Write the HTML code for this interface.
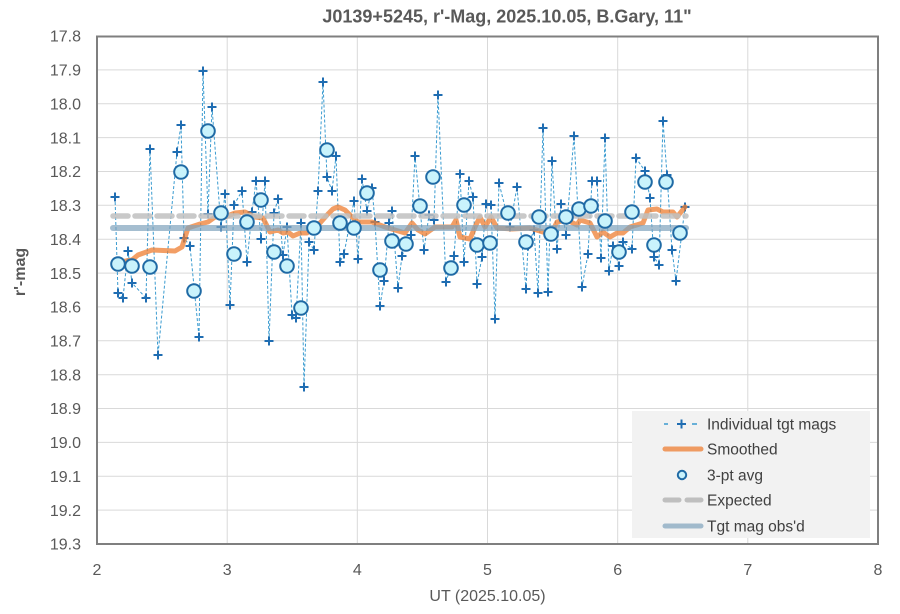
<!DOCTYPE html>
<html>
<head>
<meta charset="utf-8">
<style>
  html,body{margin:0;padding:0;background:#fff;}
  svg{display:block;}
  text{font-family:"Liberation Sans",Arial,sans-serif;}
</style>
</head>
<body>
<svg width="900" height="614" viewBox="0 0 900 614" xmlns="http://www.w3.org/2000/svg">
  <defs>
    <marker id="cr" markerWidth="10" markerHeight="10" refX="5" refY="5" markerUnits="userSpaceOnUse" overflow="visible">
      <path d="M0.5 5h9M5 0.5v9" stroke="#1F6DB2" stroke-width="2" fill="none" stroke-dasharray="none"/>
    </marker>
  </defs>
  <rect x="0" y="0" width="900" height="614" fill="#fff"/>

  <text x="507" y="22.5" font-size="18" font-weight="bold" fill="#595959" text-anchor="middle">J0139+5245, r'-Mag, 2025.10.05, B.Gary, 11"</text>

  <g stroke="#D9D9D9" stroke-width="1">
    <line x1="97" x2="878" y1="69.9" y2="69.9"/>
    <line x1="97" x2="878" y1="103.7" y2="103.7"/>
    <line x1="97" x2="878" y1="137.6" y2="137.6"/>
    <line x1="97" x2="878" y1="171.5" y2="171.5"/>
    <line x1="97" x2="878" y1="205.3" y2="205.3"/>
    <line x1="97" x2="878" y1="239.2" y2="239.2"/>
    <line x1="97" x2="878" y1="273.1" y2="273.1"/>
    <line x1="97" x2="878" y1="306.9" y2="306.9"/>
    <line x1="97" x2="878" y1="340.8" y2="340.8"/>
    <line x1="97" x2="878" y1="374.7" y2="374.7"/>
    <line x1="97" x2="878" y1="408.5" y2="408.5"/>
    <line x1="97" x2="878" y1="442.4" y2="442.4"/>
    <line x1="97" x2="878" y1="476.3" y2="476.3"/>
    <line x1="97" x2="878" y1="510.1" y2="510.1"/>
    <line y1="36" y2="544" x1="227.2" x2="227.2"/>
    <line y1="36" y2="544" x1="357.3" x2="357.3"/>
    <line y1="36" y2="544" x1="487.5" x2="487.5"/>
    <line y1="36" y2="544" x1="617.7" x2="617.7"/>
    <line y1="36" y2="544" x1="747.8" x2="747.8"/>
  </g>

  <g font-size="16" fill="#595959" text-anchor="end">
    <text x="81" y="41.7">17.8</text>
    <text x="81" y="75.6">17.9</text>
    <text x="81" y="109.4">18.0</text>
    <text x="81" y="143.3">18.1</text>
    <text x="81" y="177.2">18.2</text>
    <text x="81" y="211">18.3</text>
    <text x="81" y="244.9">18.4</text>
    <text x="81" y="278.8">18.5</text>
    <text x="81" y="312.6">18.6</text>
    <text x="81" y="346.5">18.7</text>
    <text x="81" y="380.4">18.8</text>
    <text x="81" y="414.2">18.9</text>
    <text x="81" y="448.1">19.0</text>
    <text x="81" y="482">19.1</text>
    <text x="81" y="515.8">19.2</text>
    <text x="81" y="549.7">19.3</text>
  </g>
  <g font-size="16" fill="#595959" text-anchor="middle">
    <text x="97" y="575">2</text>
    <text x="227.2" y="575">3</text>
    <text x="357.3" y="575">4</text>
    <text x="487.5" y="575">5</text>
    <text x="617.7" y="575">6</text>
    <text x="747.8" y="575">7</text>
    <text x="878" y="575">8</text>
  </g>
  <text x="487.5" y="601" font-size="16" fill="#595959" text-anchor="middle">UT (2025.10.05)</text>
  <text transform="translate(25,272) rotate(-90)" font-size="16" font-weight="bold" fill="#595959" text-anchor="middle">r'-mag</text>

  <polyline fill="none" stroke="#3A9BD0" stroke-width="1" stroke-dasharray="3 2"
    marker-start="url(#cr)" marker-mid="url(#cr)" marker-end="url(#cr)"
    points="115,197 118,293 123,298 128,251 132,283 146,298 150,149 158,355 177,152 181,125 184,238 190,246 199,337 203,71 208,214 212,107 221,227 225,194 230,305 234,205 242,191 247,262 252,212 256,181 261,239 265,181 269,341 274,213 278,199 283,255 287,227 292,315 296,318 301,223 304,387 309,242 314,250 318,191 323,82 327,177 332,191 336,156 340,262 344,254 354,201 358,259 362,179 367,211 372,188 375,222 380,306 384,281 389,223 392,211 398,288 402,256 411,235 415,156 424,250 429,215 434,220 438,95 446,282 454,256 460,174 464,262 469,181 473,197 477,284 482,257 486,204 491,205 495,319 499,183 510,227 517,187 526,289 528,246 534,230 538,293 543,128 548,292 552,161 557,249 561,204 566,235 574,136 582,287 588,254 592,181 597,181 601,258 605,138 609,271 613,246 619,266 623,242 632,249 636,158 645,171 650,198 654,257 659,265 663,121 667,175 672,250 676,281 685,207"/>

  <polyline fill="none" stroke="#ED7D31" stroke-opacity="0.75" stroke-width="5" stroke-linejoin="round" stroke-linecap="round"
    points="120,262 132,260 138,255 152,250 175,251 182,247 188,228 200,224 208,222 215,217 225,217 235,213 245,212 255,217 263,218 270,232 278,230 283,233 288,232 293,236 300,233 307,233 312,227 320,223 328,214 333,209 338,207 345,210 352,217 358,222 372,222 385,227 395,230 405,233 412,223 418,230 425,234 435,227 443,227 452,227 456,220 460,237 470,239 475,227 480,217 485,227 491,217 497,228 512,229 530,228 543,232 552,232 557,222 567,220 577,225 580,220 590,223 597,237 603,232 610,237 617,233 623,233 630,227 643,223 648,210 657,209 663,212 673,212 677,217 685,207"/>

  <line x1="113" x2="686" y1="216" y2="216" stroke="#BFBFBF" stroke-opacity="0.85" stroke-width="5.5" stroke-dasharray="15 7" stroke-linecap="round"/>
  <line x1="113" x2="686" y1="228" y2="228" stroke="#7FA2BC" stroke-opacity="0.7" stroke-width="6" stroke-linecap="round"/>

  <g fill="#C9F3FC" stroke="#1F6AA5" stroke-width="2">
    <circle cx="118" cy="264" r="6.8"/>
    <circle cx="132" cy="266" r="6.8"/>
    <circle cx="150" cy="267" r="6.8"/>
    <circle cx="181" cy="172" r="6.8"/>
    <circle cx="194" cy="291" r="6.8"/>
    <circle cx="208" cy="131" r="6.8"/>
    <circle cx="221" cy="213" r="6.8"/>
    <circle cx="234" cy="254" r="6.8"/>
    <circle cx="247" cy="222" r="6.8"/>
    <circle cx="261" cy="200" r="6.8"/>
    <circle cx="274" cy="252" r="6.8"/>
    <circle cx="287" cy="266" r="6.8"/>
    <circle cx="301" cy="308" r="6.8"/>
    <circle cx="314" cy="228" r="6.8"/>
    <circle cx="327" cy="150" r="6.8"/>
    <circle cx="340" cy="223" r="6.8"/>
    <circle cx="354" cy="228" r="6.8"/>
    <circle cx="367" cy="193" r="6.8"/>
    <circle cx="380" cy="270" r="6.8"/>
    <circle cx="392" cy="241" r="6.8"/>
    <circle cx="406" cy="244" r="6.8"/>
    <circle cx="420" cy="206" r="6.8"/>
    <circle cx="433" cy="177" r="6.8"/>
    <circle cx="451" cy="268" r="6.8"/>
    <circle cx="464" cy="205" r="6.8"/>
    <circle cx="477" cy="245" r="6.8"/>
    <circle cx="490" cy="243" r="6.8"/>
    <circle cx="508" cy="213" r="6.8"/>
    <circle cx="526" cy="242" r="6.8"/>
    <circle cx="539" cy="217" r="6.8"/>
    <circle cx="551" cy="234" r="6.8"/>
    <circle cx="566" cy="217" r="6.8"/>
    <circle cx="579" cy="209" r="6.8"/>
    <circle cx="591" cy="206" r="6.8"/>
    <circle cx="605" cy="221" r="6.8"/>
    <circle cx="619" cy="252" r="6.8"/>
    <circle cx="632" cy="212" r="6.8"/>
    <circle cx="645" cy="182" r="6.8"/>
    <circle cx="654" cy="245" r="6.8"/>
    <circle cx="666" cy="182" r="6.8"/>
    <circle cx="680" cy="233" r="6.8"/>
  </g>

  <rect x="97" y="36.5" width="781" height="507.5" fill="none" stroke="#7F7F7F" stroke-width="2"/>

  <rect x="632" y="411" width="238" height="127" fill="#F2F2F2"/>
  <line x1="664" x2="668" y1="424" y2="424" stroke="#3A9BD0" stroke-width="1.5"/>
  <path d="M677 424h9M681.5 419.5v9" stroke="#1F6DB2" stroke-width="2" fill="none"/>
  <line x1="692" x2="697" y1="424" y2="424" stroke="#3A9BD0" stroke-width="1.5"/>
  <line x1="665" x2="701" y1="449" y2="449" stroke="#ED7D31" stroke-opacity="0.75" stroke-width="5" stroke-linecap="round"/>
  <circle cx="682" cy="475" r="4.2" fill="#C9F3FC" stroke="#1F6AA5" stroke-width="2"/>
  <line x1="665" x2="679" y1="500" y2="500" stroke="#BFBFBF" stroke-width="5" stroke-linecap="round"/>
  <line x1="687" x2="701" y1="500" y2="500" stroke="#BFBFBF" stroke-width="5" stroke-linecap="round"/>
  <line x1="665" x2="701" y1="526" y2="526" stroke="#7FA2BC" stroke-opacity="0.7" stroke-width="5" stroke-linecap="round"/>
  <g font-size="15.5" fill="#404040">
    <text x="707" y="429.5">Individual tgt mags</text>
    <text x="707" y="454.5">Smoothed</text>
    <text x="707" y="480.5">3-pt avg</text>
    <text x="707" y="505.5">Expected</text>
    <text x="707" y="531.5">Tgt mag obs'd</text>
  </g>
</svg>
</body>
</html>
